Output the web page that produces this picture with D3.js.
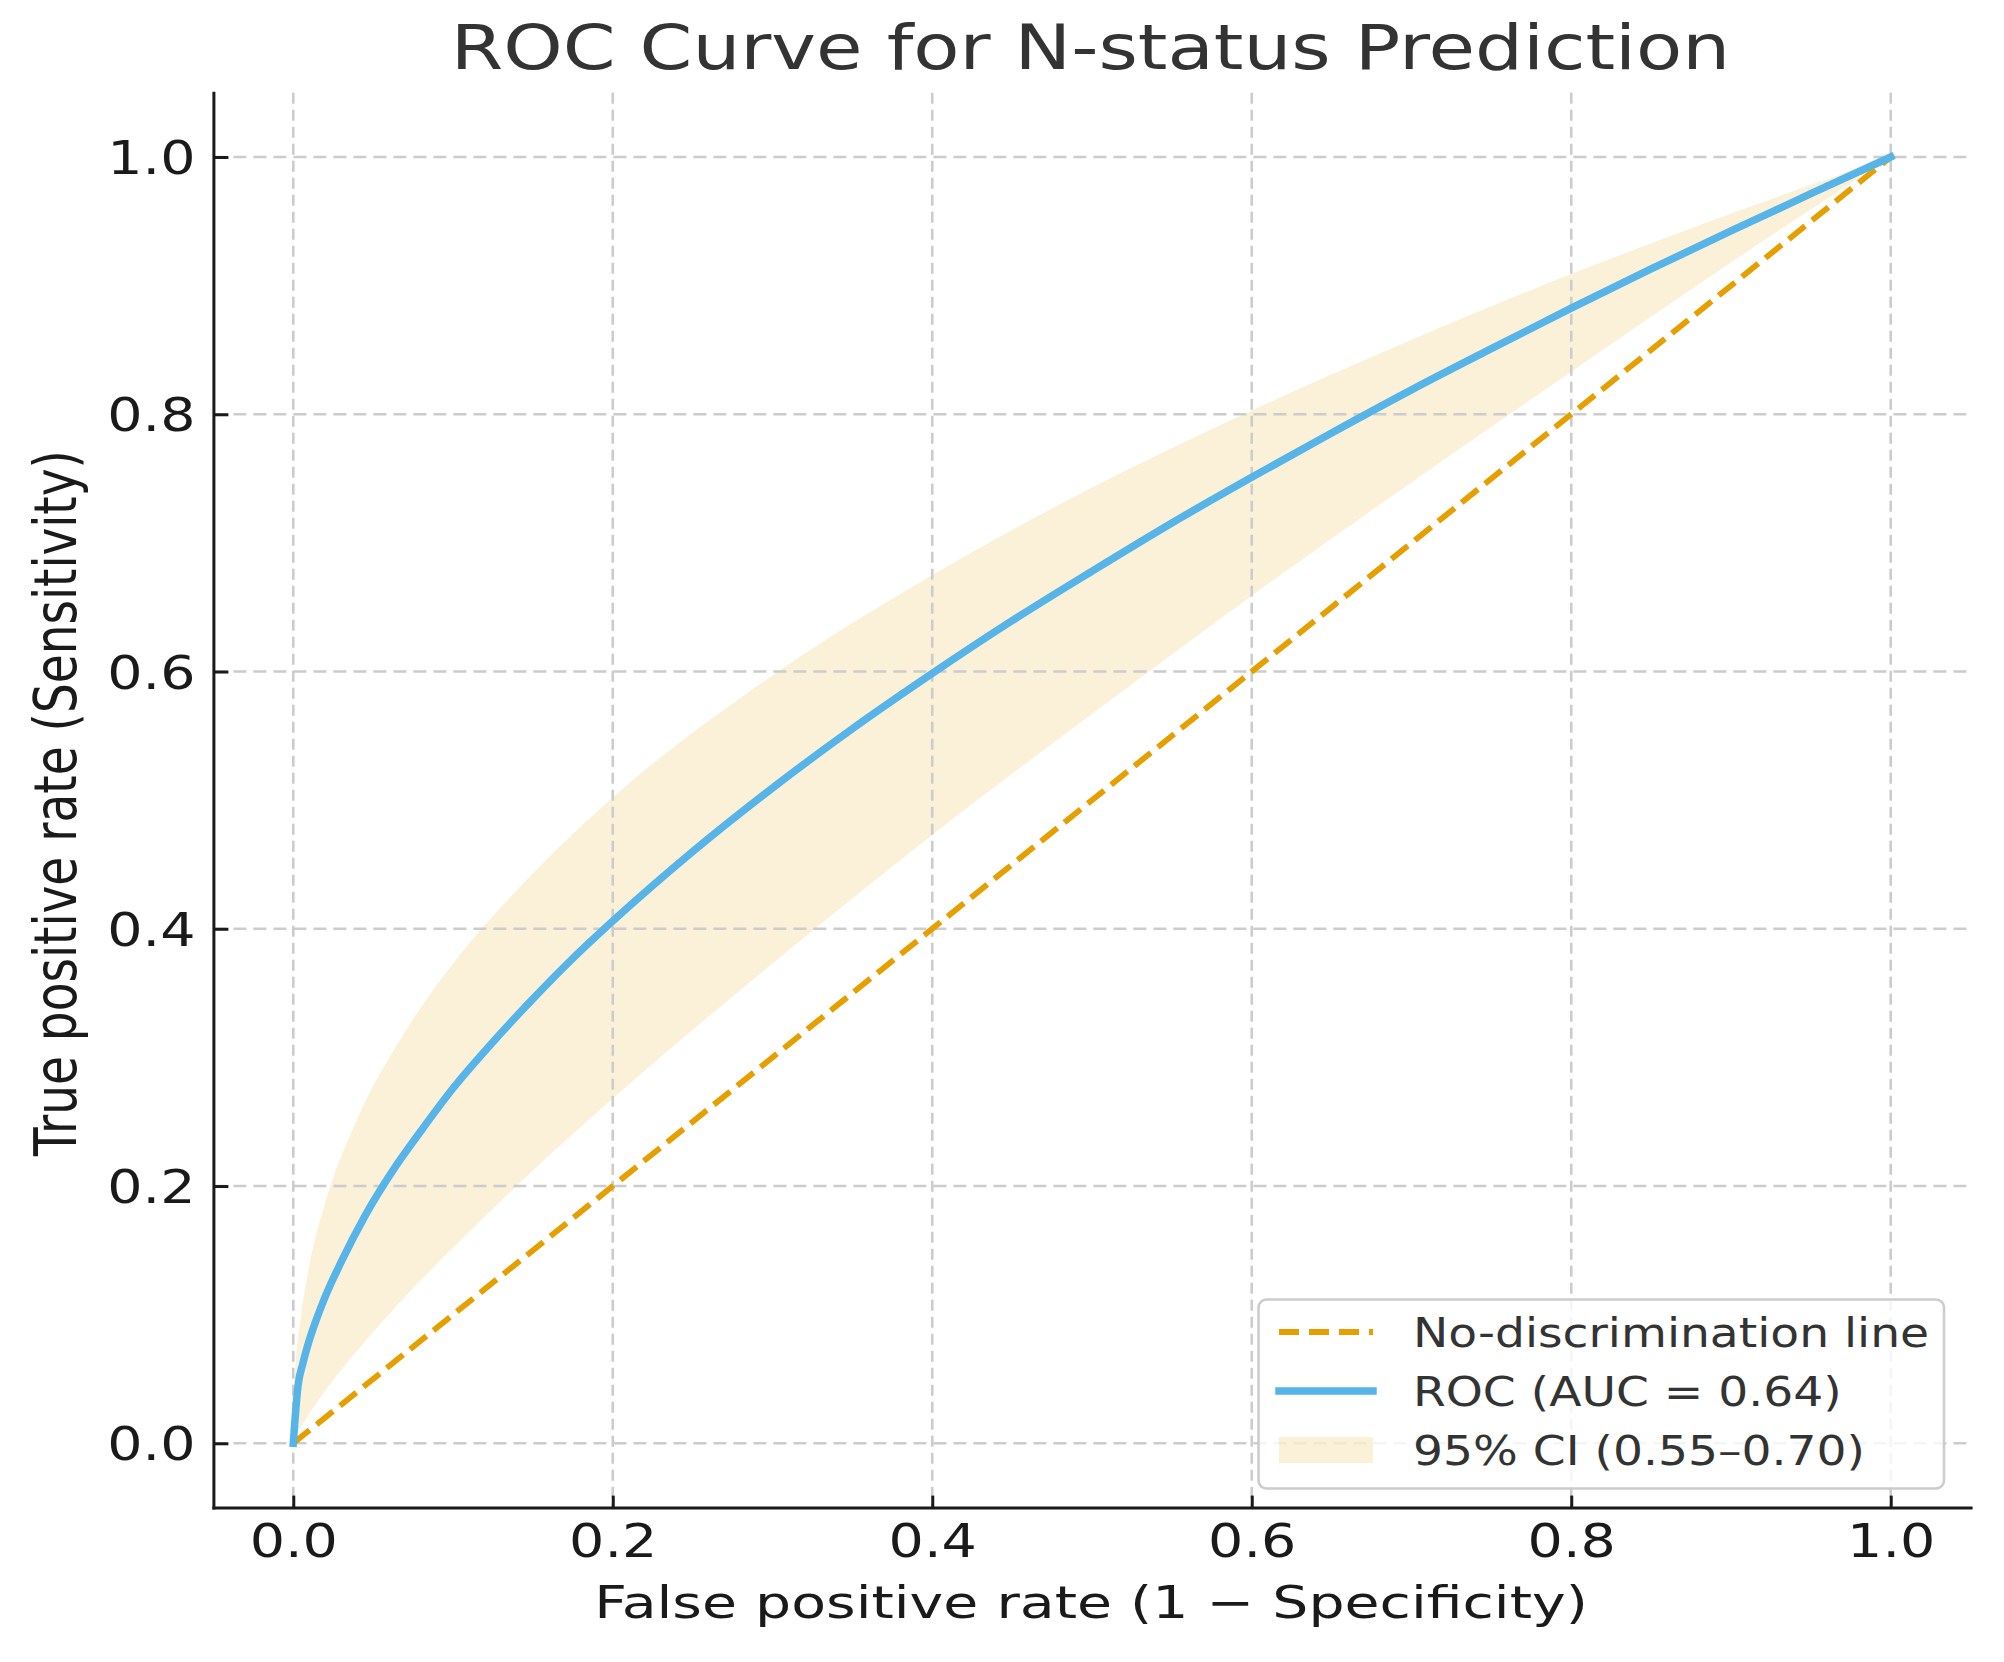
<!DOCTYPE html>
<html>
<head>
<meta charset="utf-8">
<script src="https://cdn.jsdelivr.net/npm/d3@7"></script>
<style>
  html, body { margin: 0; padding: 0; background: #ffffff; }
  svg { display: block; }
  text { font-family: "DejaVu Sans", sans-serif; }
</style>
</head>
<body>
<svg id="chart" width="2004" height="1662"></svg>
<script>
// ---- data ----
const xTicks = [0, 0.2, 0.4, 0.6, 0.8, 1.0];
const yTicks = [0, 0.2, 0.4, 0.6, 0.8, 1.0];

const rocFpr = [0, 0.003, 0.006, 0.01, 0.015, 0.02, 0.03, 0.045, 0.065, 0.08, 0.1, 0.125, 0.15, 0.175, 0.2, 0.25, 0.3, 0.35, 0.4, 0.45, 0.5, 0.55, 0.6, 0.65, 0.7, 0.75, 0.8, 0.85, 0.9, 0.95, 1];
const rocTpr = [0, 0.045, 0.062, 0.080, 0.098, 0.114, 0.141, 0.177, 0.217, 0.243, 0.276, 0.312, 0.3455, 0.377, 0.406, 0.460, 0.5095, 0.5555, 0.5985, 0.6395, 0.678, 0.7155, 0.751, 0.7855, 0.819, 0.851, 0.8825, 0.913, 0.9425, 0.9715, 1];

const ciFpr   = [0, 0.001, 0.005, 0.01, 0.02, 0.04, 0.07, 0.1, 0.15, 0.2, 0.3, 0.4, 0.5, 0.6, 0.7, 0.8, 0.9, 1];
const ciUpper = [0, 0.05, 0.10, 0.138, 0.187, 0.252, 0.32, 0.373, 0.443, 0.502, 0.597, 0.675, 0.743, 0.803, 0.858, 0.909, 0.956, 1];
const ciLower = [0, 0.004, 0.013, 0.023, 0.041, 0.072, 0.114, 0.152, 0.212, 0.268, 0.373, 0.473, 0.567, 0.659, 0.747, 0.833, 0.918, 1];

const diagFpr = [0, 1];
const diagTpr = [0, 1];

const titleText = "ROC Curve for N-status Prediction";
const xLabelText = "False positive rate (1 \u2212 Specificity)";
const yLabelText = "True positive rate (Sensitivity)";
const legendLabels = ["No-discrimination line", "ROC (AUC = 0.64)", "95% CI (0.55\u20130.70)"];

// ---- layout ----
const svg = d3.select("#chart");
const L = 213.4, R = 1970.6, T = 92.7, B = 1507.6;
const x = d3.scaleLinear().domain([-0.05, 1.05]).range([L, R]);
const y = d3.scaleLinear().domain([-0.05, 1.05]).range([B, T]);

const ORANGE = "#E69F00", BLUE = "#56B4E9";
const SX = 1.22;

// CI band
const band = ciFpr.map((f, i) => ({ f, lo: ciLower[i], hi: ciUpper[i] }));
svg.append("path")
  .datum(band)
  .attr("d", d3.area().x(d => x(d.f)).y0(d => y(d.lo)).y1(d => y(d.hi)).curve(d3.curveMonotoneX))
  .attr("fill", ORANGE).attr("fill-opacity", 0.15).attr("stroke", "none");

// grid
const grid = svg.append("g");
grid.selectAll("line.v").data(xTicks).join("line")
  .attr("x1", d => x(d)).attr("x2", d => x(d)).attr("y1", T).attr("y2", B)
  .attr("stroke", "#cccccc").attr("stroke-width", 2.6).attr("stroke-dasharray", "11,6");
grid.selectAll("line.h").data(yTicks).join("line")
  .attr("y1", d => y(d)).attr("y2", d => y(d)).attr("x1", L).attr("x2", R)
  .attr("stroke", "#cccccc").attr("stroke-width", 2.6).attr("stroke-dasharray", "13,7");

// diagonal
svg.append("path")
  .datum(diagFpr.map((f, i) => [f, diagTpr[i]]))
  .attr("d", d3.line().x(d => x(d[0])).y(d => y(d[1])))
  .attr("fill", "none").attr("stroke", ORANGE).attr("stroke-width", 5.8)
  .attr("stroke-dasharray", "21,9");

// ROC curve
svg.append("path")
  .datum(rocFpr.map((f, i) => [f, rocTpr[i]]))
  .attr("d", d3.line().x(d => x(d[0])).y(d => y(d[1])).curve(d3.curveMonotoneX))
  .attr("fill", "none").attr("stroke", BLUE).attr("stroke-width", 7.5)
  .attr("stroke-linecap", "square").attr("stroke-linejoin", "round");

// axes
const fmt = d3.format(".1f");
const xAxis = svg.append("g").attr("transform", `translate(0,${B})`)
  .call(d3.axisBottom(x).tickValues(xTicks).tickFormat(fmt).tickSizeInner(-12).tickSizeOuter(0));
const yAxis = svg.append("g").attr("transform", `translate(${L},0)`)
  .call(d3.axisLeft(y).tickValues(yTicks).tickFormat(fmt).tickSizeInner(-15).tickSizeOuter(0));

[xAxis, yAxis].forEach(g => {
  g.select(".domain").attr("stroke", "#1a1a1a").attr("stroke-width", 3).attr("stroke-linecap", "square");
  g.selectAll(".tick line").attr("stroke", "#1a1a1a").attr("stroke-width", 3);
  g.selectAll(".tick text").attr("fill", "#1a1a1a").attr("font-size", 45.5)
    .attr("font-family", "DejaVu Sans, sans-serif");
});
xAxis.selectAll(".tick text")
  .attr("x", null).attr("y", null).attr("dy", null)
  .attr("text-anchor", "middle")
  .attr("transform", `translate(0,${1556.7 - B}) scale(${SX},1)`);
yAxis.selectAll(".tick text")
  .attr("x", null).attr("y", null).attr("dy", null)
  .attr("text-anchor", "end")
  .attr("transform", `translate(${195.5 - L},16.6) scale(${SX},1)`);

// title
svg.append("text").text(titleText)
  .attr("text-anchor", "middle").attr("font-size", 63).attr("fill", "#333333")
  .attr("transform", `translate(1090.5,69.3) scale(1.2,1)`);

// axis labels
svg.append("text").text(xLabelText)
  .attr("text-anchor", "middle").attr("font-size", 45).attr("fill", "#1a1a1a")
  .attr("transform", `translate(1091,1618) scale(1.265,1)`);
svg.append("text").text(yLabelText)
  .attr("text-anchor", "middle").attr("font-size", 47).attr("fill", "#1a1a1a")
  .attr("transform", `translate(75.5,803) scale(1.24,1) rotate(-90)`);

// legend
const lg = svg.append("g");
lg.append("rect")
  .attr("x", 1258.5).attr("y", 1299.5).attr("width", 1944 - 1258.5).attr("height", 1488.5 - 1299.5)
  .attr("rx", 8).attr("ry", 8)
  .attr("fill", "#ffffff").attr("fill-opacity", 0.8)
  .attr("stroke", "#cccccc").attr("stroke-width", 2.6);
const rowY = [1332, 1391, 1450];
const baseY = [1347, 1406, 1465];
lg.append("line").attr("x1", 1279).attr("x2", 1373).attr("y1", rowY[0]).attr("y2", rowY[0])
  .attr("stroke", ORANGE).attr("stroke-width", 5.8).attr("stroke-dasharray", "20,10");
lg.append("line").attr("x1", 1279).attr("x2", 1373).attr("y1", rowY[1]).attr("y2", rowY[1])
  .attr("stroke", BLUE).attr("stroke-width", 7.5).attr("stroke-linecap", "square");
lg.append("rect").attr("x", 1279).attr("y", 1437).attr("width", 94).attr("height", 26)
  .attr("fill", ORANGE).attr("fill-opacity", 0.15);
legendLabels.forEach((t, i) => {
  lg.append("text").text(t)
    .attr("font-size", 41).attr("fill", "#333333")
    .attr("transform", `translate(1413,${baseY[i]}) scale(1.15,1)`);
});
</script>
</body>
</html>
